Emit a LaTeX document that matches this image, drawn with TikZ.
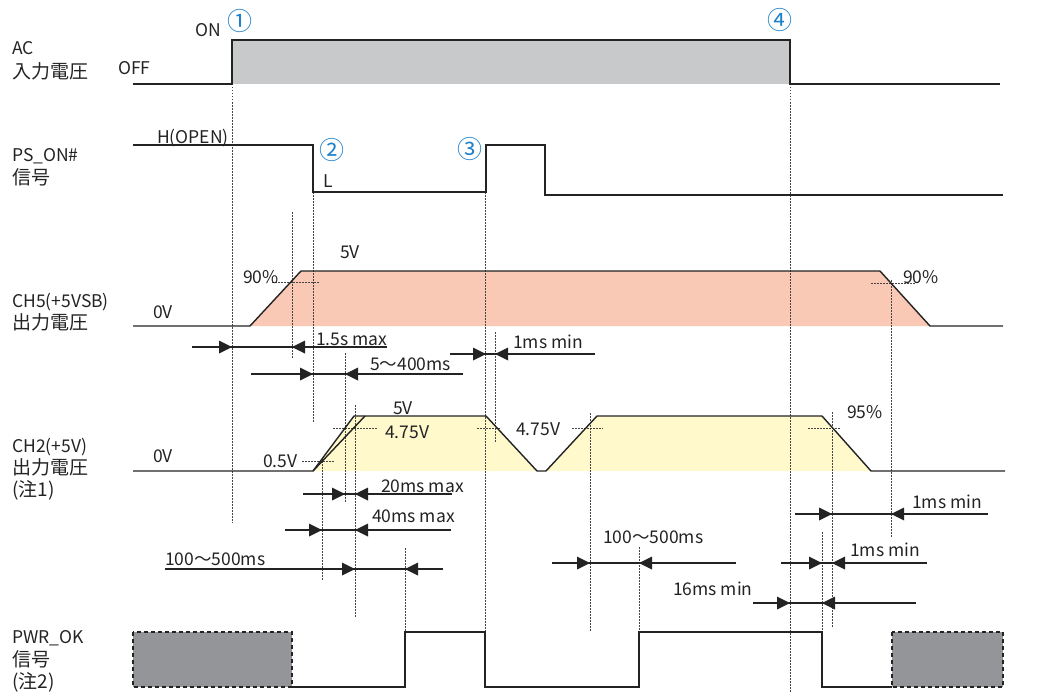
\documentclass[tikz,border=0pt]{standalone}
\usepackage{fontspec}
\setmainfont{Noto Sans CJK JP}
\newfontfamily\jpf{Noto Sans CJK JP}
\usetikzlibrary{arrows.meta}
\definecolor{acgray}{RGB}{200,201,203}
\definecolor{salmon}{RGB}{249,201,181}
\definecolor{lyellow}{RGB}{255,249,204}
\definecolor{pgray}{RGB}{148,149,153}
\definecolor{numblue}{RGB}{30,128,200}
\definecolor{ink}{RGB}{35,35,35}
\newcommand\dimrow[5]{%
  \draw[dimline] (#2,#1) -- (#3,#1);
  \pic at (#4,#1) {rtip};
  \pic at (#5,#1) {ltip};}
\begin{document}
\begin{tikzpicture}[x=1pt,y=-1pt,
  wave/.style={line width=1.4pt,draw=ink,line join=miter},
  vdot/.style={line width=0.8pt,draw=ink!85,dash pattern=on 1.5pt off 1.5pt},
  dimline/.style={line width=1.2pt,draw=ink},
  boxdash/.style={line width=1.1pt,draw=ink,dash pattern=on 4pt off 3pt},
  lbl/.style={anchor=base west,inner sep=0pt,text=ink,font=\fontsize{17.5}{20}\selectfont},
  jlbl/.style={anchor=base west,inner sep=0pt,text=ink,font=\fontsize{19}{20}\selectfont\jpf},
  num/.style={inner sep=0pt,text=numblue,font=\fontsize{25}{26}\selectfont},
  rtip/.pic={\fill[ink] (0,0) -- (-13pt,6.5pt) -- (-13pt,-6.5pt) -- cycle;},
  ltip/.pic={\fill[ink] (0,0) -- (13pt,6.5pt) -- (13pt,-6.5pt) -- cycle;},
]
\useasboundingbox (0,0) rectangle (1061,693);

% ---------- fills ----------
\fill[acgray] (232,40) rectangle (790,84);
\fill[salmon] (250,326) -- (301,271) -- (880,271) -- (930,326) -- cycle;
\fill[lyellow] (313,471) -- (354,416) -- (486,416) -- (537,471) -- (546,471) -- (597,416) -- (822,416) -- (871,471) -- cycle;
\filldraw[fill=pgray,boxdash] (133,632) rectangle (292,687);
\filldraw[fill=pgray,boxdash] (892,632) rectangle (1003,687);

% ---------- vertical dotted guides ----------
\draw[vdot] (232,84) -- (232,523);
\draw[vdot] (292,212) -- (292,358);
\draw[vdot] (313,192) -- (313,422);
\draw[vdot] (345,353) -- (345,502);
\draw[vdot] (355,405) -- (355,617);
\draw[vdot] (322,458) -- (322,580);
\draw[vdot] (405,548) -- (405,632);
\draw[vdot] (485,192) -- (485,632);
\draw[vdot] (495,332) -- (495,443);
\draw[vdot] (590,413) -- (590,632);
\draw[vdot] (639,547) -- (639,632);
\draw[vdot] (790,84) -- (790,693);
\draw[vdot] (822,532) -- (822,632);
\draw[vdot] (832,412) -- (832,628);
\draw[vdot] (891,280) -- (891,537);

% ---------- horizontal dotted level marks ----------
\draw[vdot] (272,282) -- (319,282);
\draw[vdot] (871,283) -- (916,283);
\draw[vdot] (302,461) -- (335,461);
\draw[vdot] (333,428) -- (378,428);
\draw[vdot] (477,428) -- (500,428);
\draw[vdot] (572,428) -- (603,428);
\draw[vdot] (808,428) -- (841,428);

% ---------- waveforms ----------
\draw[wave] (133,84) -- (232,84) -- (232,40) -- (790,40) -- (790,84) -- (1000,84);
\draw[wave] (133,145) -- (313,145) -- (313,192) -- (486,192) -- (486,145) -- (545,145) -- (545,195) -- (1003,195);
\draw[wave] (133,326) -- (250,326) -- (301,271) -- (880,271) -- (930,326) -- (1003,326);
\draw[wave] (133,471) -- (313,471) -- (354,416) -- (486,416) -- (537,471) -- (546,471) -- (597,416) -- (822,416) -- (871,471) -- (1005,471);
\draw[wave] (313,471) -- (365,416);
\draw[wave] (292,687) -- (405,687) -- (405,632) -- (485,632) -- (485,687) -- (639,687) -- (639,632) -- (822,632) -- (822,687) -- (892,687);

% ---------- dimension arrows ----------
\dimrow{347}{192}{387}{232}{292}
\dimrow{374}{251}{463}{313}{345}
\dimrow{354}{450}{595}{486}{495}
\dimrow{494}{303}{452}{345}{355}
\dimrow{530}{285}{451}{322}{355}
\dimrow{569}{165}{443}{355}{405}
\dimrow{563}{552}{736}{590}{639}
\dimrow{514}{795}{988}{832}{891}
\dimrow{563}{781}{927}{822}{832}
\dimrow{603}{753}{916}{790}{822}

% ---------- row labels ----------
\node[lbl]  (acA)   at (12,55)  {AC};
\node[jlbl] (acB)   at (12,78)  {入力電圧};
\node[lbl]  (psA)   at (12,161) {PS\_ON\#};
\node[jlbl] (psB)   at (12,184) {信号};
\node[lbl]  (c5A)   at (12,307) {CH5(+5VSB)};
\node[jlbl] (c5B)   at (12,329) {出力電圧};
\node[lbl]  (c2A)   at (12,452) {CH2(+5V)};
\node[jlbl] (c2B)   at (12,474) {出力電圧};
\node[jlbl] (c2C)   at (12,496) {(注1)};
\node[lbl]  (pwA)   at (12,643) {PWR\_OK};
\node[jlbl] (pwB)   at (12,666) {信号};
\node[jlbl] (pwC)   at (12,688) {(注2)};

% ---------- level labels ----------
\node[lbl] (on)   at (195,37)  {ON};
\node[lbl] (off)  at (118,75)  {OFF};
\node[lbl] (hop)  at (157,143) {H(OPEN)};
\node[lbl] (lo)   at (323,187) {L};
\node[lbl] (v5a)  at (340,258) {5V};
\node[lbl] (p90a) at (243,283) {90\%};
\node[lbl] (p90b) at (903,283) {90\%};
\node[lbl] (ov1)  at (153,318) {0V};
\node[lbl] (ov2)  at (153,462) {0V};
\node[lbl] (v5b)  at (393,414) {5V};
\node[lbl] (v475a) at (385,438) {4.75V};
\node[lbl] (v475b) at (516,435) {4.75V};
\node[lbl] (v05)  at (263,467) {0.5V};
\node[lbl] (p95)  at (847,418) {95\%};

% ---------- timing labels ----------
\node[lbl] (t15)  at (316,345) {1.5s max};
\node[lbl] (t5)   at (370,370) {5～400ms};
\node[lbl] (t1a)  at (513,348) {1ms min};
\node[lbl] (t20)  at (381,492) {20ms max};
\node[lbl] (t40)  at (372,522) {40ms max};
\node[lbl] (t100a) at (165,565) {100～500ms};
\node[lbl] (t100b) at (603,543) {100～500ms};
\node[lbl] (t16)  at (673,595) {16ms min};
\node[lbl] (t1b)  at (912,508) {1ms min};
\node[lbl] (t1c)  at (850,556) {1ms min};

% ---------- event markers ----------
\node[num] (n1) at (240,21)  {①};
\node[num] (n2) at (332,150) {②};
\node[num] (n3) at (470,149) {③};
\node[num] (n4) at (780,20)  {④};
\end{tikzpicture}
\end{document}
